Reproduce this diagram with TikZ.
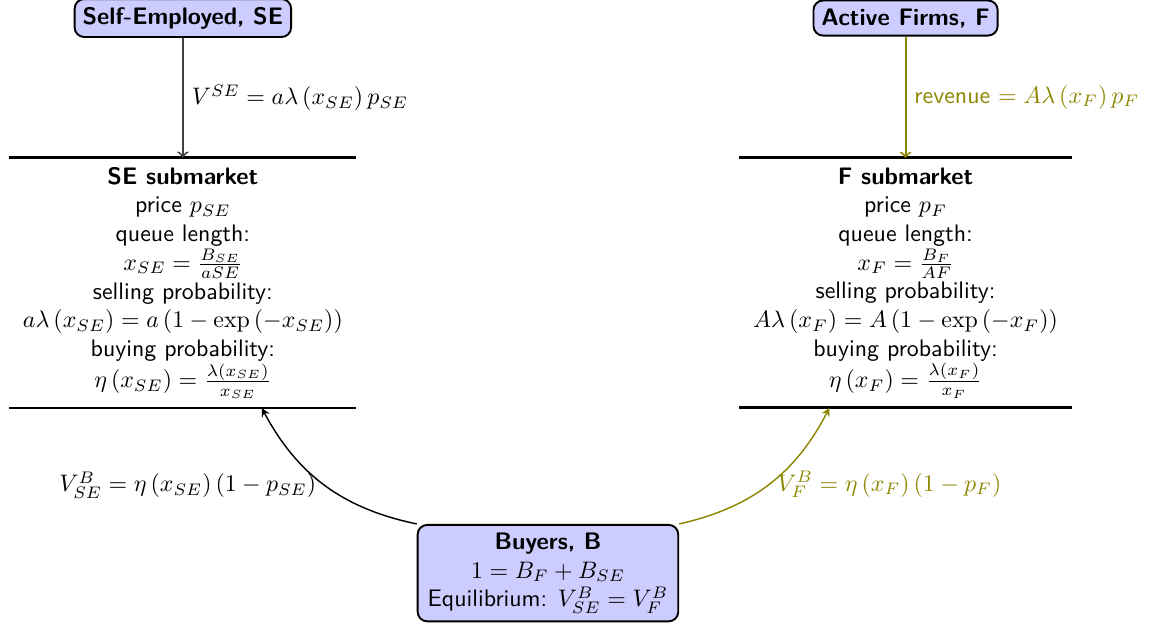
\documentclass[tikz,border=0pt]{standalone}
\usepackage{amsmath}

\begin{document}
\begin{tikzpicture}[font=\sffamily,
   agent/.style={draw, thick, rounded corners, fill=blue!20, align=center},
   submkt/.style={align=center, inner xsep=0pt, inner ysep=3.8pt},
   mktline/.style={very thick}]

   \useasboundingbox (0,0) rectangle (16.93,-9.206);

   % 主体
   \node [agent, font=\sffamily\bfseries] (se) at (2.69,-0.265) {Self-Employed, SE};
   \node [agent, font=\sffamily\bfseries] (f) at (13.32,-0.265) {Active Firms, F};
   \node [agent, inner xsep=4.2pt] (b) at (8.06,-8.43) {\textbf{Buyers, B}\\ $1=B_F+B_{SE}$\\ Equilibrium: $V^B_{SE}=V^B_F$};

   % 市場
   \node [submkt, minimum width=5.09cm] (semkt) at (2.69,-4.16) {\textbf{SE submarket}\\ price $p_{SE}$\\ queue length:\\ $x_{SE}=\frac{B_{SE}}{aSE}$\\ selling probability:\\ $a\lambda\left(x_{SE}\right)=a\left(1-\exp\left(-x_{SE}\right)\right)$\\ buying probability:\\ $\eta\left(x_{SE}\right)=\frac{\lambda\left(x_{SE}\right)}{x_{SE}}$};
   \draw [mktline] (semkt.north west)--(semkt.north east);
   \draw [mktline] (semkt.south west)--(semkt.south east);

   \node [submkt, minimum width=4.88cm] (fmkt) at (13.32,-4.16) {\textbf{F submarket}\\ price $p_F$\\ queue length:\\ $x_F=\frac{B_F}{AF}$\\ selling probability:\\ $A\lambda\left(x_F\right)=A\left(1-\exp\left(-x_F\right)\right)$\\ buying probability:\\ $\eta\left(x_F\right)=\frac{\lambda\left(x_F\right)}{x_F}$};
   \draw [mktline] (fmkt.north west)--(fmkt.north east);
   \draw [mktline] (fmkt.south west)--(fmkt.south east);

   % 売り手の収入
   \draw [thick, ->, black!75](se)--(semkt.north) node [midway, right, black]{$V^{SE}=a\lambda\left(x_{SE}\right)p_{SE}$};
   \draw [thick, ->, olive](f)--(fmkt.north) node [midway, right]{revenue $=A\lambda\left(x_F\right)p_F$};

   % 買い手の価値
   \coordinate (sein) at ([xshift=1.16cm]semkt.south);
   \coordinate (fin) at ([xshift=-1.12cm]fmkt.south);
   \draw [semithick, -stealth](b.north west) to [bend left=25] node [midway, left]{$V^B_{SE}=\eta\left(x_{SE}\right)\left(1-p_{SE}\right)$} (sein);
   \draw [semithick, -stealth, olive](b.north east) to [bend right=25] node [midway, right]{$V^B_F=\eta\left(x_F\right)\left(1-p_F\right)$} (fin);

\end{tikzpicture}
\end{document}
